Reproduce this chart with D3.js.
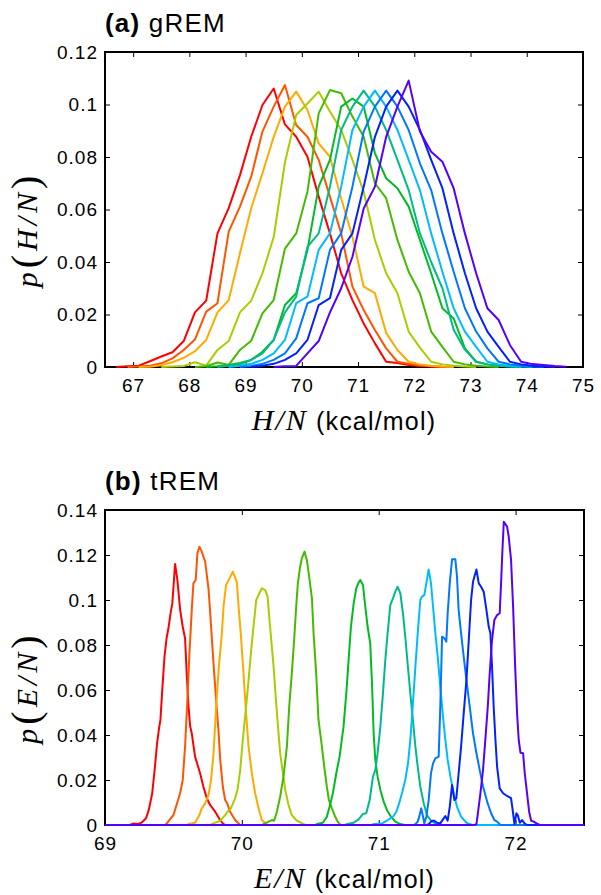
<!DOCTYPE html>
<html>
<head>
<meta charset="utf-8">
<script src="https://cdn.jsdelivr.net/npm/d3@7"></script>
<style>
  body { margin: 0; background: #fff; }
  svg { display: block; }
</style>
</head>
<body>
<svg id="chart"></svg>
<script>
// ---- panel (a) gREM: histogram bins of H/N (kcal/mol) ----
const binsA = [
  66.5, 66.7, 66.9, 67.1, 67.3, 67.5, 67.7, 67.9, 68.1, 68.3,
  68.5, 68.7, 68.9, 69.1, 69.3, 69.5, 69.7, 69.9, 70.1, 70.3,
  70.5, 70.7, 70.9, 71.1, 71.3, 71.5, 71.7, 71.9, 72.1, 72.3,
  72.5, 72.7, 72.9, 73.1, 73.3, 73.5, 73.7, 73.9, 74.1, 74.3,
  74.5, 74.7
];

const gremRed = [
  0, 0, 0.0003, 0.0005, 0.0022, 0.0040, 0.0056, 0.0099, 0.0208, 0.0253,
  0.0509, 0.0605, 0.0731, 0.0877, 0.0998, 0.1061, 0.0924, 0.0877, 0.0801, 0.0649,
  0.0509, 0.0357, 0.0255, 0.0166, 0.0090, 0.0020, 0.0015, 0.0008, 0.0004, 0.0002,
  0, 0, 0, 0, 0, 0, 0, 0, 0, 0,
  0, 0
];
const gremOrangeRed = [
  0, 0, 0, 0.0002, 0.0005, 0.0014, 0.0033, 0.0065, 0.0105, 0.0211,
  0.0243, 0.0516, 0.0611, 0.0725, 0.0897, 0.0992, 0.1074, 0.0922, 0.0877, 0.0789,
  0.0649, 0.0509, 0.0306, 0.0217, 0.0141, 0.0071, 0.0020, 0.0012, 0.0006, 0.0003,
  0.0001, 0, 0, 0, 0, 0, 0, 0, 0, 0,
  0, 0
];
const gremOrange = [
  0, 0, 0, 0, 0.0001, 0.0007, 0.0018, 0.0035, 0.0060, 0.0103,
  0.0208, 0.0255, 0.0433, 0.0605, 0.0738, 0.0877, 0.0992, 0.1049, 0.0979, 0.0852,
  0.0801, 0.0642, 0.0496, 0.0306, 0.0281, 0.0130, 0.0065, 0.0020, 0.0010, 0.0005,
  0.0002, 0, 0, 0, 0, 0, 0, 0, 0, 0,
  0, 0
];
const gremYellowGreen = [
  0, 0, 0, 0, 0, 0, 0.0002, 0.0004, 0.0018, 0.0005,
  0.0065, 0.0099, 0.0208, 0.0253, 0.0357, 0.0495, 0.0780, 0.0960, 0.1004, 0.1049,
  0.0973, 0.0903, 0.0789, 0.0668, 0.0484, 0.0357, 0.0281, 0.0135, 0.0074, 0.0020,
  0.0010, 0.0005, 0.0002, 0, 0, 0, 0, 0, 0, 0,
  0, 0
];
const gremLime = [
  0, 0, 0, 0, 0, 0, 0, 0, 0, 0.0003,
  0.0017, 0.0008, 0.0065, 0.0100, 0.0204, 0.0255, 0.0451, 0.0509, 0.0668, 0.0966,
  0.1055, 0.1043, 0.0954, 0.0877, 0.0700, 0.0643, 0.0484, 0.0363, 0.0281, 0.0135,
  0.0077, 0.0020, 0.0010, 0.0005, 0.0002, 0, 0, 0, 0, 0,
  0, 0
];
const gremGreen = [
  0, 0, 0, 0, 0, 0, 0, 0, 0, 0,
  0.0003, 0.0008, 0.0015, 0.0027, 0.0058, 0.0103, 0.0236, 0.0281, 0.0446, 0.0687,
  0.0789, 0.0992, 0.1023, 0.0992, 0.0814, 0.0719, 0.0681, 0.0611, 0.0484, 0.0357,
  0.0224, 0.0185, 0.0071, 0.0020, 0.0010, 0.0005, 0.0002, 0, 0, 0,
  0, 0
];
const gremTeal = [
  0, 0, 0, 0, 0, 0, 0, 0, 0, 0,
  0, 0.0005, 0.0010, 0.0027, 0.0052, 0.0103, 0.0208, 0.0268, 0.0458, 0.0509,
  0.0687, 0.0903, 0.0992, 0.1053, 0.0992, 0.0903, 0.0789, 0.0674, 0.0509, 0.0400,
  0.0300, 0.0142, 0.0066, 0.0020, 0.0010, 0.0005, 0.0002, 0, 0, 0,
  0, 0
];
const gremCyan = [
  0, 0, 0, 0, 0, 0, 0, 0, 0, 0,
  0, 0, 0.0005, 0.0012, 0.0027, 0.0052, 0.0103, 0.0243, 0.0268, 0.0446,
  0.0509, 0.0687, 0.0903, 0.0992, 0.1053, 0.0992, 0.0903, 0.0789, 0.0674, 0.0509,
  0.0363, 0.0224, 0.0135, 0.0077, 0.0020, 0.0010, 0.0005, 0.0002, 0, 0,
  0, 0
];
const gremAzure = [
  0, 0, 0, 0, 0, 0, 0, 0, 0, 0,
  0, 0, 0, 0.0004, 0.0012, 0.0027, 0.0052, 0.0109, 0.0243, 0.0262,
  0.0446, 0.0509, 0.0687, 0.0897, 0.0992, 0.1053, 0.0992, 0.0903, 0.0776, 0.0674,
  0.0509, 0.0363, 0.0224, 0.0135, 0.0071, 0.0020, 0.0010, 0.0005, 0.0002, 0,
  0, 0
];
const gremBlue = [
  0, 0, 0, 0, 0, 0, 0, 0, 0, 0,
  0, 0, 0, 0, 0.0005, 0.0012, 0.0027, 0.0052, 0.0103, 0.0236,
  0.0262, 0.0446, 0.0509, 0.0687, 0.0877, 0.0992, 0.1053, 0.0992, 0.0903, 0.0789,
  0.0681, 0.0509, 0.0357, 0.0224, 0.0135, 0.0077, 0.0020, 0.0010, 0.0005, 0.0002,
  0, 0
];
const gremViolet = [
  0, 0, 0, 0, 0, 0, 0, 0, 0, 0,
  0, 0, 0, 0, 0, 0, 0.0003, 0.0004, 0.0052, 0.0099,
  0.0208, 0.0300, 0.0420, 0.0604, 0.0687, 0.0877, 0.0992, 0.1091, 0.0897, 0.0820,
  0.0782, 0.0681, 0.0509, 0.0357, 0.0224, 0.0179, 0.0084, 0.0020, 0.0011, 0.0008,
  0.0004, 0.0001
];

// ---- panel (b) tREM: [E/N, p] vertices ----
const tremRed = [[69.0,0],[69.18,0],[69.21,0.0007],[69.24,0.0004],[69.27,0.0012],[69.30,0.003],[69.32,0.0067],[69.345,0.0141],[69.365,0.0259],[69.38,0.036],[69.395,0.043],[69.405,0.0467],[69.42,0.0615],[69.435,0.075],[69.45,0.083],[69.465,0.088],[69.48,0.0945],[69.492,0.0985],[69.512,0.116],[69.529,0.1089],[69.549,0.0956],[69.568,0.0881],[69.585,0.083],[69.598,0.066],[69.61,0.053],[69.622,0.044],[69.634,0.0407],[69.658,0.0304],[69.695,0.023],[69.719,0.017],[69.744,0.0119],[69.768,0.0089],[69.805,0.0059],[69.841,0.0022],[69.866,0.0004],[69.88,0],[72.5,0]];
const tremOrangeRed = [[69.0,0],[69.44,0],[69.451,0.0007],[69.5,0.0044],[69.549,0.0141],[69.568,0.02],[69.585,0.0348],[69.602,0.0556],[69.617,0.0763],[69.634,0.0956],[69.646,0.1074],[69.663,0.1089],[69.675,0.1207],[69.69,0.1237],[69.707,0.1215],[69.732,0.117],[69.756,0.1052],[69.768,0.0948],[69.788,0.0763],[69.798,0.0674],[69.812,0.0556],[69.829,0.0422],[69.842,0.0289],[69.861,0.017],[69.878,0.0111],[69.895,0.0093],[69.914,0.0059],[69.951,0.0022],[69.988,0],[72.5,0]];
const tremOrange = [[69.0,0],[69.6,0],[69.61,0.0004],[69.658,0.001],[69.69,0.0044],[69.707,0.0074],[69.732,0.0096],[69.756,0.0133],[69.775,0.02],[69.793,0.0319],[69.812,0.0526],[69.832,0.0704],[69.854,0.0852],[69.866,0.097],[69.885,0.1067],[69.91,0.1096],[69.934,0.1126],[69.963,0.1081],[69.978,0.0956],[69.992,0.0852],[70.012,0.0674],[70.031,0.0496],[70.049,0.0348],[70.073,0.023],[70.097,0.0141],[70.122,0.0074],[70.146,0.0022],[70.178,0.0004],[70.19,0],[72.5,0]];
const tremYellowGreen = [[69.0,0],[69.77,0],[69.78,0.0004],[69.842,0.0019],[69.878,0.0044],[69.895,0.0059],[69.92,0.0074],[69.951,0.0119],[69.968,0.0156],[69.988,0.0244],[70.007,0.0378],[70.031,0.0526],[70.049,0.0644],[70.066,0.0763],[70.085,0.0881],[70.105,0.1],[70.122,0.1022],[70.146,0.1052],[70.171,0.1044],[70.188,0.1015],[70.202,0.0911],[70.219,0.0793],[70.232,0.0704],[70.249,0.0556],[70.268,0.0407],[70.28,0.0319],[70.3,0.023],[70.317,0.0156],[70.341,0.0089],[70.365,0.0044],[70.402,0.0019],[70.451,0.0004],[70.47,0],[72.5,0]];
const tremLime = [[69.0,0],[70.15,0],[70.158,0.0004],[70.195,0.0015],[70.219,0.0022],[70.236,0.0019],[70.256,0.0059],[70.28,0.0126],[70.304,0.0215],[70.329,0.0348],[70.346,0.0526],[70.365,0.0674],[70.382,0.0822],[70.397,0.097],[70.409,0.1074],[70.426,0.1148],[70.438,0.1185],[70.458,0.1215],[70.475,0.1178],[70.495,0.1089],[70.512,0.1007],[70.524,0.0852],[70.543,0.0674],[70.56,0.0467],[70.585,0.0348],[70.602,0.0259],[70.621,0.017],[70.636,0.0111],[70.658,0.0074],[70.68,0.004],[70.7,0.0015],[70.72,0],[72.5,0]];
const tremGreen = [[69.0,0],[70.54,0],[70.548,0.0004],[70.592,0.001],[70.621,0.0037],[70.641,0.0081],[70.665,0.0141],[70.69,0.023],[70.714,0.0304],[70.743,0.0437],[70.763,0.0585],[70.78,0.0733],[70.797,0.0881],[70.817,0.0985],[70.836,0.1052],[70.853,0.1077],[70.865,0.1089],[70.885,0.1067],[70.902,0.097],[70.919,0.0881],[70.938,0.0807],[70.951,0.063],[70.963,0.0407],[70.975,0.0289],[70.992,0.0215],[71.012,0.0156],[71.036,0.0104],[71.06,0.0067],[71.09,0.0037],[71.121,0.0015],[71.158,0.0004],[71.19,0],[72.5,0]];
const tremTeal = [[69.0,0],[70.75,0],[70.768,0.0004],[70.817,0.001],[70.853,0.0025],[70.885,0.0049],[70.909,0.0052],[70.934,0.0111],[70.958,0.0215],[70.975,0.0244],[70.992,0.0319],[71.012,0.0437],[71.031,0.0585],[71.048,0.0733],[71.065,0.0852],[71.085,0.0978],[71.104,0.1007],[71.121,0.1037],[71.138,0.1059],[71.158,0.103],[71.177,0.0941],[71.194,0.0837],[71.211,0.0719],[71.231,0.0585],[71.25,0.0467],[71.268,0.0348],[71.285,0.0259],[71.304,0.017],[71.329,0.0096],[71.353,0.0044],[71.382,0.0019],[71.421,0.0004],[71.44,0],[72.5,0]];
const tremCyan = [[69.0,0],[70.95,0],[70.963,0.0004],[71.024,0.0007],[71.06,0.0019],[71.085,0.003],[71.109,0.004],[71.129,0.0059],[71.153,0.0104],[71.17,0.0141],[71.194,0.02],[71.214,0.0274],[71.231,0.0378],[71.25,0.0541],[71.268,0.0704],[71.285,0.0852],[71.304,0.1],[71.316,0.1015],[71.333,0.1022],[71.348,0.1074],[71.365,0.1136],[71.382,0.1074],[71.397,0.097],[71.414,0.0852],[71.431,0.0748],[71.45,0.0615],[71.47,0.0481],[71.487,0.0378],[71.504,0.0289],[71.524,0.0215],[71.548,0.0141],[71.572,0.0081],[71.602,0.0037],[71.641,0.001],[71.682,0],[72.5,0]];
const tremAzure = [[69.0,0],[71.26,0],[71.268,0.0004],[71.285,0.0015],[71.299,0.0044],[71.311,0.0074],[71.324,0.0037],[71.333,0.0007],[71.348,0.0037],[71.365,0.0111],[71.382,0.023],[71.397,0.0274],[71.414,0.0296],[71.438,0.0304],[71.45,0.0526],[71.463,0.0837],[71.48,0.083],[71.494,0.0815],[71.504,0.0941],[71.519,0.1074],[71.536,0.1181],[71.56,0.1181],[71.572,0.1104],[71.584,0.0956],[71.602,0.0852],[71.621,0.0748],[71.641,0.0644],[71.665,0.0526],[71.689,0.0407],[71.714,0.0319],[71.738,0.0244],[71.763,0.017],[71.792,0.0104],[71.821,0.0052],[71.845,0.0022],[71.865,0.0015],[71.889,0],[72.5,0]];
const tremBlue = [[69.0,0],[71.35,0],[71.365,0.0004],[71.389,0.0019],[71.406,0.0019],[71.426,0.001],[71.45,0.0007],[71.47,0.0025],[71.487,0.004],[71.504,0.0019],[71.519,0.0081],[71.536,0.0178],[71.553,0.0111],[71.567,0.0119],[71.584,0.023],[71.602,0.0348],[71.621,0.0496],[71.641,0.0644],[71.658,0.0822],[71.675,0.1],[71.689,0.1081],[71.714,0.1136],[71.731,0.1074],[71.748,0.1059],[71.767,0.1037],[71.787,0.0956],[71.804,0.0881],[71.816,0.0852],[71.828,0.0704],[71.84,0.0526],[71.853,0.0378],[71.865,0.0259],[71.884,0.0163],[71.909,0.0141],[71.938,0.0129],[71.967,0.0119],[71.982,0.0052],[71.992,0.0004],[72.006,0.0052],[72.016,0.0044],[72.031,0.001],[72.048,0.0022],[72.065,0.0007],[72.084,0],[72.5,0]];
const tremViolet = [[69.0,0],[71.7,0],[71.714,0.0004],[71.723,0.0044],[71.743,0.0141],[71.762,0.0244],[71.779,0.0378],[71.797,0.0526],[71.811,0.0674],[71.828,0.0822],[71.845,0.0911],[71.865,0.0933],[71.884,0.0941],[71.894,0.1074],[71.904,0.1222],[71.914,0.1348],[71.938,0.1326],[71.95,0.1281],[71.967,0.1178],[71.982,0.097],[71.997,0.0704],[72.011,0.0496],[72.023,0.0378],[72.036,0.0321],[72.055,0.0319],[72.067,0.023],[72.084,0.0141],[72.099,0.0059],[72.114,0.0019],[72.133,0.0015],[72.153,0.0007],[72.177,0],[72.5,0]];

const colors = ["#ff0000", "#ff5500", "#ffaa00", "#aacc00", "#44bb00", "#00bb22",
                "#00bb88", "#00bbff", "#0077ff", "#0022ff", "#5500ff"];

const xTicksA = [67, 68, 69, 70, 71, 72, 73, 74, 75];
const xLabelsA = ["67", "68", "69", "70", "71", "72", "73", "74", "75"];
const yTicksA = [0, 0.02, 0.04, 0.06, 0.08, 0.1, 0.12];
const yLabelsA = ["0", "0.02", "0.04", "0.06", "0.08", "0.1", "0.12"];
const xTicksB = [69, 70, 71, 72];
const xLabelsB = ["69", "70", "71", "72"];
const yTicksB = [0, 0.02, 0.04, 0.06, 0.08, 0.1, 0.12, 0.14];
const yLabelsB = ["0", "0.02", "0.04", "0.06", "0.08", "0.1", "0.12", "0.14"];

const width = 601;
const height = 895;
const sans = "'Liberation Sans', Arial, Helvetica, sans-serif";
const serif = "'Liberation Serif', 'Times New Roman', serif";

const svg = d3.select('#chart')
    .attr("width", width)
    .attr("height", height)
    .attr("viewBox", [0, 0, width, height]);

// gREM series only span the bins where they have counts (keep one zero at each end)
const trim = pts => {
  const first = Math.max(0, pts.findIndex(p => p[1] > 0) - 1);
  let last = pts.length - 1;
  while (last > 0 && pts[last - 1][1] === 0) last--;
  return pts.slice(first, last + 1);
};
const gremSeries = [gremRed, gremOrangeRed, gremOrange, gremYellowGreen, gremLime, gremGreen,
                    gremTeal, gremCyan, gremAzure, gremBlue, gremViolet]
    .map(vals => trim(binsA.map((b, i) => [b, vals[i]])));
const tremSeries = [tremRed, tremOrangeRed, tremOrange, tremYellowGreen, tremLime, tremGreen,
                    tremTeal, tremCyan, tremAzure, tremBlue, tremViolet];

function drawPanel(p) {
  const x = d3.scaleLinear().domain(p.xDomain).range([p.left, p.right]);
  const y = d3.scaleLinear().domain(p.yDomain).range([p.bottom, p.top]);

  svg.append("rect")
      .attr("x", p.left).attr("y", p.top)
      .attr("width", p.right - p.left).attr("height", p.bottom - p.top)
      .attr("fill", "none").attr("stroke", "#000").attr("stroke-width", 2);

  const styleAxis = g => g
      .attr("font-family", sans)
      .attr("font-size", 19)
      .call(g => g.select(".domain").remove())
      .call(g => g.selectAll("text").attr("fill", "#000").attr("letter-spacing", 1));

  svg.append("g")
      .attr("transform", `translate(0,${p.bottom})`)
      .call(d3.axisBottom(x).tickValues(p.xTicks).tickFormat((d, i) => p.xLabels[i])
          .tickSize(-5).tickPadding(12))
      .call(styleAxis);
  svg.append("g")
      .attr("transform", `translate(0,${p.top})`)
      .call(d3.axisTop(x).tickValues(p.xTicks).tickFormat("").tickSize(-5))
      .call(styleAxis);
  svg.append("g")
      .attr("transform", `translate(${p.left},0)`)
      .call(d3.axisLeft(y).tickValues(p.yTicks).tickFormat((d, i) => p.yLabels[i])
          .tickSize(-5).tickPadding(7))
      .call(styleAxis);
  svg.append("g")
      .attr("transform", `translate(${p.right},0)`)
      .call(d3.axisRight(y).tickValues(p.yTicks).tickFormat("").tickSize(-5))
      .call(styleAxis);

  const line = d3.line()
      .x(d => x(d[0]))
      .y(d => y(d[1]));

  svg.append("g")
    .selectAll("path")
    .data(p.series)
    .join("path")
      .attr("fill", "none")
      .attr("stroke", (d, i) => colors[i])
      .attr("stroke-width", 2)
      .attr("stroke-linejoin", "round")
      .attr("d", line);

  // panel title
  const title = svg.append("text")
      .attr("x", p.left)
      .attr("y", p.top - 20)
      .attr("font-family", sans)
      .attr("font-size", 26)
      .attr("letter-spacing", 1.2);
  title.append("tspan").attr("font-weight", "bold").text(p.tag);
  title.append("tspan").text(" " + p.name);

  // y label  p(X/N)
  const yl = svg.append("text")
      .attr("transform", `translate(${p.left - 68},${(p.top + p.bottom) / 2 + 20}) rotate(-90)`)
      .attr("text-anchor", "middle")
      .attr("font-family", serif)
      .attr("font-size", 30)
      .attr("letter-spacing", 4);
  yl.append("tspan").attr("font-style", "italic").text("p");
  yl.append("tspan").attr("font-size", 40).attr("dy", 2).text("(");
  yl.append("tspan").attr("font-style", "italic").attr("dy", -2).text(p.varName);
  yl.append("tspan").attr("font-size", 40).attr("dy", 2).text(")");

  // x label  X/N (kcal/mol)
  const xl = svg.append("text")
      .attr("x", (p.left + p.right) / 2)
      .attr("y", p.bottom + 63)
      .attr("text-anchor", "middle");
  xl.append("tspan").attr("font-family", serif).attr("font-style", "italic")
      .attr("font-size", 30).attr("letter-spacing", 2).text(p.varName);
  xl.append("tspan").attr("font-family", sans).attr("font-size", 25)
      .attr("letter-spacing", 1.2).text(" (kcal/mol)");
}

drawPanel({
  left: 105, right: 583, top: 52, bottom: 367,
  xDomain: [66.5, 75], yDomain: [0, 0.12],
  xTicks: xTicksA, xLabels: xLabelsA, yTicks: yTicksA, yLabels: yLabelsA,
  series: gremSeries, tag: "(a)", name: "gREM", varName: "H/N"
});

drawPanel({
  left: 105, right: 584, top: 510, bottom: 825,
  xDomain: [69, 72.5], yDomain: [0, 0.14],
  xTicks: xTicksB, xLabels: xLabelsB, yTicks: yTicksB, yLabels: yLabelsB,
  series: tremSeries, tag: "(b)", name: "tREM", varName: "E/N"
});
</script>
</body>
</html>
